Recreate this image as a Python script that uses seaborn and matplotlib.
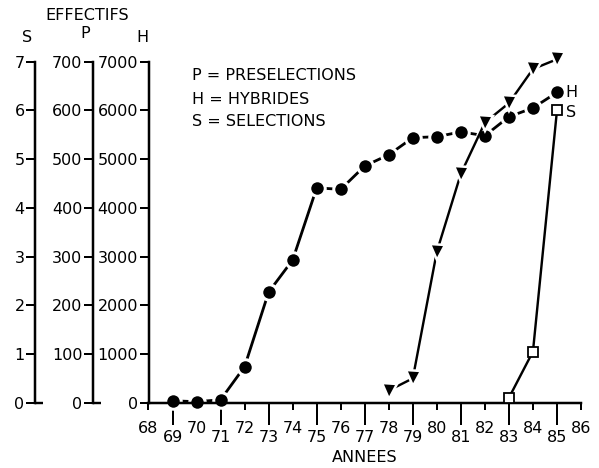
import matplotlib
matplotlib.use("Agg")
import matplotlib.pyplot as plt
import seaborn as sns
import pandas as pd

# Hybrides (H axis, 0-7000)
h_years = [69, 70, 71, 72, 73, 74, 75, 76, 77, 78, 79, 80, 81, 82, 83, 84, 85]
h_values = [40, 20, 60, 740, 2270, 2930, 4410, 4380, 4860, 5090, 5440, 5460, 5560, 5480, 5870, 6050, 6370]

# Preselections (P axis, 0-700)
p_years = [78, 79, 80, 81, 82, 83, 84, 85]
p_values = [25, 50, 310, 470, 575, 615, 685, 705]

# Selections (S axis, 0-7)
s_years = [83, 84, 85]
s_values = [0.1, 1.05, 6.0]

x_ticks = list(range(68, 87))
h_ticks = list(range(0, 7001, 1000))
p_ticks = list(range(0, 701, 100))
s_ticks = list(range(0, 8))

legend_lines = ["P = PRESELECTIONS", "H = HYBRIDES", "S = SELECTIONS"]

sns.set_style("ticks")
plt.rcParams["font.family"] = ["DejaVu Sans"]
plt.rcParams["text.color"] = "black"
plt.rcParams["xtick.color"] = "black"
plt.rcParams["ytick.color"] = "black"
FS = 11.5
W, H = 599, 468
PX = 72 / 100  # points per pixel at dpi 100

fig = plt.figure(figsize=(W / 100, H / 100), dpi=100)
x0, x1 = 148.5, 581.0
y0, y1 = 402.7, 61.7
ax = fig.add_axes([x0 / W, (H - y0) / H, (x1 - x0) / W, (y0 - y1) / H])
axP = ax.twinx()
axS = ax.twinx()

lw_spine = 2.5 * PX
for a, pos in ((ax, 0.0), (axP, -(x0 - 93) / (x1 - x0)), (axS, -(x0 - 35) / (x1 - x0))):
    for side in ("top", "right"):
        a.spines[side].set_visible(False)
    a.spines["left"].set_visible(True)
    a.spines["left"].set_linewidth(lw_spine)
    a.spines["left"].set_color("black")
    if a is not ax:
        a.spines["bottom"].set_visible(False)
        a.spines["left"].set_position(("axes", pos))
        a.yaxis.set_ticks_position("left")
        a.yaxis.set_label_position("left")
    a.set_facecolor("none")

ax.spines["bottom"].set_linewidth(lw_spine)
ax.spines["bottom"].set_color("black")

# data
df_h = pd.DataFrame({"annee": h_years, "effectif": h_values})
df_p = pd.DataFrame({"annee": p_years, "effectif": p_values})
df_s = pd.DataFrame({"annee": s_years, "effectif": s_values})

sns.lineplot(data=df_h, x="annee", y="effectif", ax=ax, color="black",
             lw=2.8 * PX, marker="o", markersize=15.5 * PX, markerfacecolor="black",
             markeredgecolor="white", markeredgewidth=3 * PX, clip_on=False)
sns.lineplot(data=df_p, x="annee", y="effectif", ax=axP, color="black",
             lw=2.4 * PX, marker="v", markersize=15 * PX, markerfacecolor="black",
             markeredgecolor="white", markeredgewidth=2.5 * PX, clip_on=False)
sns.lineplot(data=df_s, x="annee", y="effectif", ax=axS, color="black",
             lw=2.4 * PX, marker="s", markersize=9.5 * PX, markerfacecolor="white",
             markeredgecolor="black", markeredgewidth=1.8 * PX, clip_on=False)

ax.set_xlim(68, 86)
ax.set_ylim(0, 7000)
axP.set_ylim(0, 700)
axS.set_ylim(0, 7)

# staggered year labels: odd years long ticks / low labels, even years short ticks / high labels
odd = [x for x in x_ticks if x % 2 == 1]
even = [x for x in x_ticks if x % 2 == 0]
ax.set_xticks(odd, labels=[str(v) for v in odd])
ax.set_xticks(even, labels=[str(v) for v in even], minor=True)
ax.tick_params(axis="x", which="major", direction="out", length=22 * PX,
               width=2 * PX, pad=5 * PX, labelsize=FS)
ax.tick_params(axis="x", which="minor", direction="out", length=7 * PX,
               width=2 * PX, pad=11 * PX, labelsize=FS)

ax.set_yticks(h_ticks, labels=[str(v) for v in h_ticks])
axP.set_yticks(p_ticks, labels=[str(v) for v in p_ticks])
axS.set_yticks(s_ticks, labels=[str(v) for v in s_ticks])
for a in (ax, axP, axS):
    a.tick_params(axis="y", which="major", direction="out", length=9 * PX,
                  width=2 * PX, pad=1.5 * PX, labelsize=FS)
    a.set_xlabel("")
    a.set_ylabel("")
    a.grid(False)
# small foot at the base of the S and P axes
for a in (axP, axS):
    a.yaxis.remove_overlapping_locs = False
    a.set_yticks([0], minor=True)
    a.tick_params(axis="y", which="minor", direction="in", length=8 * PX,
                  width=2.4 * PX, left=True)

# series labels at the line ends
ax.annotate("H", (h_years[-1], h_values[-1]), xytext=(8 * PX, 0),
            textcoords="offset points", ha="left", va="center", fontsize=FS)
axP.annotate("P", (p_years[-1], p_values[-1]), xytext=(7 * PX, 0),
             textcoords="offset points", ha="left", va="center", fontsize=FS)
axS.annotate("S", (s_years[-1], s_values[-1]), xytext=(9 * PX, -2 * PX),
             textcoords="offset points", ha="left", va="center", fontsize=FS)

def ftext(x, y, s, **kw):
    fig.text(x / W, 1 - y / H, s, fontsize=FS, va="center", **kw)

ftext(87, 15, "EFFECTIFS", ha="center")
ftext(27, 37, "S", ha="center")
ftext(85, 34, "P", ha="center")
ftext(142, 37, "H", ha="center")
ftext(365, 458, "ANNEES", ha="center")
for i, line in enumerate(legend_lines):
    ftext(192, 76 + i * 23, line, ha="left")

fig.savefig("out.png", dpi=100, facecolor="white")
